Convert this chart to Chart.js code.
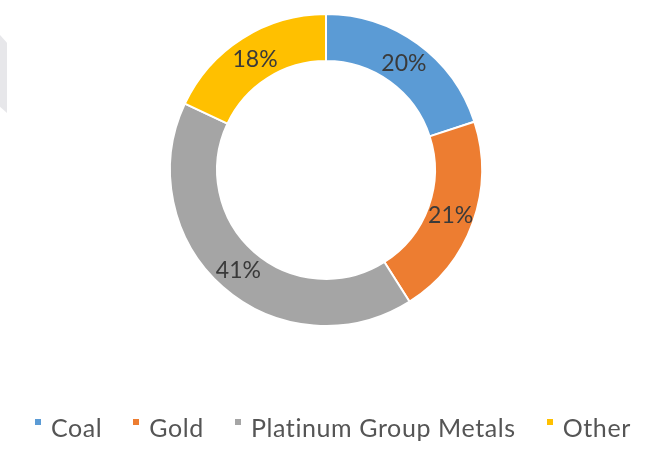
<!DOCTYPE html>
<html>
<head>
<meta charset="utf-8">
<script src="https://cdn.jsdelivr.net/npm/chart.js@4.4.1/dist/chart.umd.min.js"></script>
<style>
  html, body { margin: 0; padding: 0; background: #fff; }
  .wrap { position: relative; width: 649px; height: 468px; overflow: hidden; }
  .corner {
    position: absolute; left: 0; top: 35px; width: 7px; height: 78px;
    background: #e7e7ea;
    clip-path: polygon(0 0, 100% 10%, 100% 100%, 0 92%);
  }
  .legend {
    position: absolute; left: 35px; top: 413px;
    display: flex; font-family: Lato, sans-serif; font-size: 25px;
    letter-spacing: 0.6px; line-height: 28px; color: #555555; white-space: nowrap;
  }
  .legend .item { display: flex; align-items: flex-start; margin-right: 31px; }
  .legend .box { width: 6px; height: 6px; margin-top: 6px; margin-right: 10px; }
</style>
</head>
<body>
<div class="wrap">
  <canvas id="mixChart"></canvas>
  <div class="corner"></div>
  <div class="legend" id="mixLegend"></div>
</div>
<script>
// revenue mix by commodity
const categories = ['Coal', 'Gold', 'Platinum Group Metals', 'Other'];
const shares = [20, 21, 41, 18];
const sliceColors = ['#5B9BD5', '#ED7D31', '#A5A5A5', '#FFC000'];

// percentage text in the middle of each ring segment
const sliceLabels = {
  id: 'sliceLabels',
  afterDatasetsDraw(chart) {
    const ctx = chart.ctx;
    const meta = chart.getDatasetMeta(0);
    ctx.save();
    ctx.font = '23px Lato';
    ctx.fillStyle = '#3a3a3a';
    ctx.textAlign = 'center';
    ctx.textBaseline = 'middle';
    meta.data.forEach((arc, i) => {
      const p = arc.tooltipPosition();
      ctx.fillText(shares[i] + '%', p.x, p.y + 1);
    });
    ctx.restore();
  }
};

const buildLegend = () => {
  const legend = document.getElementById('mixLegend');
  categories.forEach((name, i) => {
    const item = document.createElement('div');
    item.className = 'item';
    item.innerHTML = `<span class="box" style="background:${sliceColors[i]}"></span><span>${name}</span>`;
    legend.appendChild(item);
  });
};

const drawChart = () => {
  const canvas = document.getElementById('mixChart');
  new Chart(canvas, {
    type: 'doughnut',
    data: {
      labels: categories,
      datasets: [{
        data: shares,
        backgroundColor: sliceColors,
        borderColor: '#ffffff',
        borderWidth: 2,
        hoverOffset: 0
      }]
    },
    options: {
      responsive: false,
      animation: false,
      radius: 156,
      cutout: 118,
      layout: { padding: { left: 3, bottom: 128 } },
      plugins: {
        legend: { display: false },
        tooltip: { enabled: false }
      }
    },
    plugins: [sliceLabels]
  });
};

const canvas = document.getElementById('mixChart');
canvas.width = 649;
canvas.height = 468;
buildLegend();
document.fonts.load('23px Lato').then(drawChart, drawChart);
</script>
</body>
</html>
